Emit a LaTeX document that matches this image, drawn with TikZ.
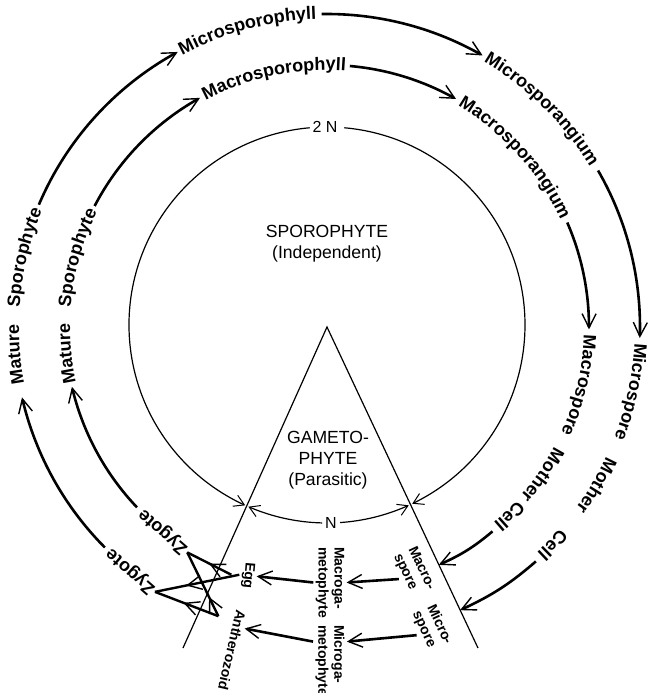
\documentclass[tikz,border=0pt]{standalone}
\usepackage{fontspec}
\setsansfont{Liberation Sans}
\usetikzlibrary{arrows.meta,bending,calc,decorations.text,decorations.markings}

\newcommand{\ringfont}{\sffamily\bfseries\fontsize{9}{10}\selectfont}
% label set clockwise along a ring: radius, centre angle, text
\newcommand{\ringtext}[3]{%
  \path[decorate, decoration={text along path, text align=center,
      text={|\ringfont|#3}}]
    (#2+30:#1) arc[start angle=#2+30, end angle=#2-30, radius=#1];}

\begin{document}
\begin{tikzpicture}[
    x=0.5pt, y=0.5pt,
    every node/.style={font=\sffamily, inner sep=1pt},
    ringarrow/.style={line width=1.3pt,
        -{Straight Barb[length=7pt, width=7pt, line width=0.7pt]}},
    thinline/.style={line width=0.6pt},
    thinarrow/.style={thinline,
        -{Straight Barb[length=5pt, width=6pt, line width=0.5pt]}},
    ringlbl/.style={font=\ringfont},
    smalllbl/.style={font=\sffamily\bfseries\fontsize{7}{8}\selectfont, align=left},
    midlbl/.style={font=\sffamily\fontsize{8.8}{10.5}\selectfont, align=center},
    midarrow/.style={line width=1.2pt, postaction={decorate},
        decoration={markings, mark=at position #1 with
            {\arrow{Straight Barb[length=7pt, width=7pt, line width=0.7pt]}}}},
]
\useasboundingbox (-327,-366) rectangle (321,327);

% ----------------------------------------------------------------------
% Sporophyte circle (2N) and the gametophyte wedge
% ----------------------------------------------------------------------
\coordinate (ctr) at (0,2);
\coordinate (apex) at (0,0);
\coordinate (lfoot) at (-144,-321);
\coordinate (rfoot) at (151,-321);
\draw[thinline] (lfoot) -- (apex) -- (rfoot);

\node[font=\sffamily\fontsize{8}{9.6}\selectfont] (twoN) at (-2,200) {2 N};
\node[font=\sffamily\fontsize{8}{9.6}\selectfont] (oneN) at (4,-196) {N};

% circle broken at both labels, arrows meet on the wedge sides
\draw[thinarrow] ($(ctr)+(95:198)$) arc[start angle=95, end angle=245.6, radius=198];
\draw[thinarrow] ($(ctr)+(85:198)$) arc[start angle=85, end angle=-64.5, radius=198];
\draw[thinarrow] ($(ctr)+(268.6:198)$) arc[start angle=268.6, end angle=246.6, radius=198];
\draw[thinarrow] ($(ctr)+(273.8:198)$) arc[start angle=273.8, end angle=294.4, radius=198];

\node[midlbl] (sporo) at (0,83) {SPOROPHYTE\\(Independent)};
\node[midlbl] (gameto) at (1,-133) {GAMETO-\\PHYTE\\(Parasitic)};

% ----------------------------------------------------------------------
% Outer ring (micro side), clockwise
% ----------------------------------------------------------------------
\draw[ringarrow] (224.8:313) arc[start angle=224.8, end angle=193, radius=313];
\draw[ringarrow] (157:313) arc[start angle=157, end angle=118.5, radius=313];
\draw[ringarrow] (91:313) arc[start angle=91, end angle=60.2, radius=313];
\draw[ringarrow] (30:313) arc[start angle=30, end angle=-2, radius=313];

\ringtext{308}{185}{Mature}
\ringtext{308}{167}{Sporophyte}
\ringtext{308}{105}{Microsporophyll}
\ringtext{308}{45.4}{Microsporangium}
\ringtext{308}{-12}{Microspore}
\ringtext{308}{-30.5}{Mother}
\ringtext{308}{-44}{Cell}

% ----------------------------------------------------------------------
% Inner ring (macro side), clockwise
% ----------------------------------------------------------------------
\draw[ringarrow] (223.5:262) arc[start angle=223.5, end angle=193.2, radius=262];
\draw[ringarrow] (152.5:262) arc[start angle=152.5, end angle=119, radius=262];
\draw[ringarrow] (85:262) arc[start angle=85, end angle=60.5, radius=262];
\draw[ringarrow] (23.5:262) arc[start angle=23.5, end angle=-0.5, radius=262];

\ringtext{257}{185.8}{Mature}
\ringtext{257}{164.5}{Sporophyte}
\ringtext{257}{102}{Macrosporophyll}
\ringtext{257}{42}{Macrosporangium}
\ringtext{257}{-13}{Macrospore}
\ringtext{257}{-34.5}{Mother}
\ringtext{257}{-46}{Cell}

% ----------------------------------------------------------------------
% Spores, gametophytes, gametes, zygotes
% ----------------------------------------------------------------------
\node[smalllbl, rotate=-65] (macrospore) at (87,-245) {Macro-\\spore};
\node[smalllbl, rotate=-65] (microspore) at (105,-301) {Micro-\\spore};
\node[smalllbl, rotate=-90] (macrogam) at (3,-255.5) {Macroga-\\metophyte};
\node[smalllbl, rotate=-90] (microgam) at (3,-333.5) {Microga-\\metophyte};
\node[smalllbl, rotate=-95] (egg) at (-79,-248.5) {Egg};
\node[smalllbl, rotate=-103] (anth) at (-95,-323) {Antherozoid};
\node[ringlbl, rotate=139] (zygout) at (231.2:313) {Zygote};
\node[ringlbl, rotate=139] (zygin) at (231.3:262) {Zygote};

\coordinate (macrotip) at ($(apex)!0.741!(rfoot)$);
\coordinate (microtip) at ($(apex)!0.882!(rfoot)$);
\coordinate (macrocell) at (-51:263);
\coordinate (microcell) at (-48.3:314);

\draw[ringarrow] (macrocell) to[bend left=8] (macrotip);
\draw[ringarrow] (microcell) to[bend left=8] (microtip);
\draw[ringarrow] (macrospore.south) -- (macrogam.north);
\draw[ringarrow] (microspore.south) -- ($(microgam.north)!0.5!(microgam.north west)$);
\draw[ringarrow] (macrogam.south) -- (egg.north);
\draw[ringarrow] ($(microgam.south)!0.5!(microgam.south west)$)
    -- ($(anth.north west)!0.45!(anth.north)$);

% fertilisation cross
\draw[midarrow=0.5] ([xshift=-4pt]egg.south) -- (zygin.west);
\draw[midarrow=0.63] (egg.south) -- (zygout.west);
\draw[midarrow=0.55] ([xshift=-8pt,yshift=-5pt]anth.south west) -- (zygout.west);
\draw[midarrow=0.3] ([xshift=-8pt,yshift=-5pt]anth.south west) -- (zygin.west);

\end{tikzpicture}
\end{document}
